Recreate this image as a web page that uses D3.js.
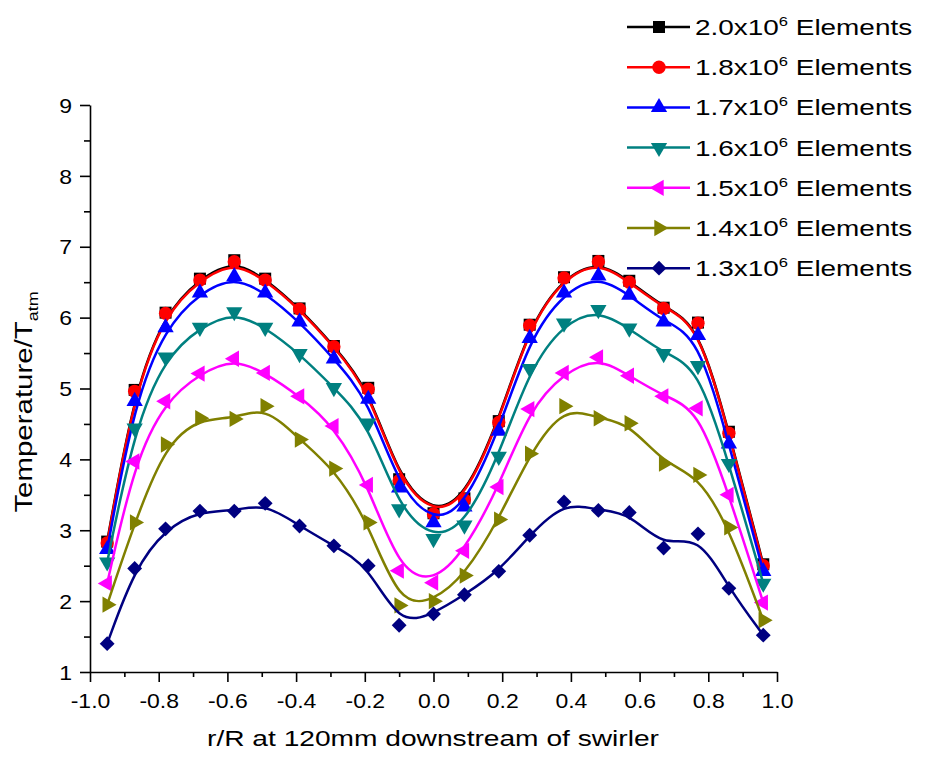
<!DOCTYPE html>
<html>
<head>
<meta charset="utf-8">
<script src="https://cdn.jsdelivr.net/npm/d3@7"></script>
<style>
  body { margin: 0; background: #fff; }
  text { font-family: "Liberation Sans", Arial, sans-serif; fill: #000; }
</style>
</head>
<body>
<div id="chart"></div>
<script>
// radial positions r/R
const xVals = [-0.95, -0.87, -0.78, -0.68, -0.58, -0.49, -0.39, -0.29, -0.19, -0.10, 0.0,
               0.09, 0.19, 0.28, 0.38, 0.48, 0.57, 0.67, 0.77, 0.86, 0.96];

// series, by mesh size
const seriesNames = ["2.0", "1.8", "1.7", "1.6", "1.5", "1.4", "1.3"];
const t20 = [2.84, 4.98, 6.07, 6.55, 6.81, 6.55, 6.13, 5.60, 5.01, 3.72, 3.24, 3.45, 4.54, 5.90, 6.57, 6.80, 6.52, 6.14, 5.93, 4.39, 2.52];
const t18 = [2.82, 4.96, 6.06, 6.53, 6.79, 6.53, 6.12, 5.59, 4.99, 3.70, 3.23, 3.43, 4.52, 5.89, 6.56, 6.79, 6.50, 6.13, 5.92, 4.37, 2.50];
const t17 = [2.73, 4.82, 5.86, 6.35, 6.58, 6.35, 5.94, 5.42, 4.85, 3.60, 3.11, 3.33, 4.40, 5.71, 6.35, 6.59, 6.32, 5.94, 5.75, 4.22, 2.42];
const t16 = [2.55, 4.44, 5.44, 5.86, 6.08, 5.86, 5.49, 5.01, 4.51, 3.30, 2.88, 3.07, 4.04, 5.28, 5.92, 6.11, 5.85, 5.49, 5.32, 3.94, 2.25];
const t15 = [2.25, 3.97, 4.82, 5.21, 5.42, 5.22, 4.89, 4.47, 3.64, 2.43, 2.26, 2.71, 3.61, 4.71, 5.22, 5.44, 5.18, 4.89, 4.72, 3.50, 1.98];
const t14 = [1.95, 3.11, 4.21, 4.58, 4.57, 4.75, 4.28, 3.87, 3.11, 1.94, 2.00, 2.36, 3.15, 4.08, 4.75, 4.58, 4.51, 3.94, 3.78, 3.04, 1.73];
const t13 = [1.40, 2.46, 3.02, 3.27, 3.27, 3.38, 3.06, 2.78, 2.50, 1.66, 1.82, 2.09, 2.42, 2.93, 3.40, 3.28, 3.25, 2.75, 2.95, 2.18, 1.52];
const seriesValues = [t20, t18, t17, t16, t15, t14, t13];

const colors = ["#000000", "#ff0000", "#0000ff", "#008080", "#ff00ff", "#808000", "#000080"];

const xTicks = [-1.0, -0.8, -0.6, -0.4, -0.2, 0.0, 0.2, 0.4, 0.6, 0.8, 1.0];
const xMinor = [-0.9, -0.7, -0.5, -0.3, -0.1, 0.1, 0.3, 0.5, 0.7, 0.9];
const yTicks = [1, 2, 3, 4, 5, 6, 7, 8, 9];
const yMinor = [1.5, 2.5, 3.5, 4.5, 5.5, 6.5, 7.5, 8.5];

const W = 933, H = 757;
const plot = { left: 90, right: 777, top: 105, bottom: 672 };
const stretch = 1.27;   // text in the original is drawn wide
const tickStretch = 1.15;

const svg = d3.select("#chart").append("svg")
  .attr("width", W).attr("height", H);
svg.append("rect").attr("width", W).attr("height", H).attr("fill", "#fff");

const x = d3.scaleLinear().domain([-1, 1]).range([plot.left, plot.right]);
const y = d3.scaleLinear().domain([1, 9]).range([plot.bottom, plot.top]);

// marker shapes per series
const markers = [
  { type: d3.symbolSquare, size: 144, rot: 0 },
  { type: d3.symbolCircle, size: 140, rot: 0 },
  { type: d3.symbolTriangle, size: 115, rot: 0 },
  { type: d3.symbolTriangle, size: 115, rot: 180 },
  { type: d3.symbolTriangle, size: 115, rot: -90 },
  { type: d3.symbolTriangle, size: 115, rot: 90 },
  { type: d3.symbolSquare, size: 110, rot: 45 }
];

const fmt1 = d => d3.format(".1f")(d).replace("\u2212", "-");

// axes
const xAxis = svg.append("g").attr("transform", `translate(0,${plot.bottom})`)
  .call(d3.axisBottom(x).tickValues(xTicks).tickSize(10).tickSizeOuter(0).tickFormat(fmt1));
svg.append("g").attr("transform", `translate(0,${plot.bottom})`)
  .call(d3.axisBottom(x).tickValues(xMinor).tickSize(5).tickSizeOuter(0).tickFormat(""))
  .select(".domain").remove();

const yAxis = svg.append("g").attr("transform", `translate(${plot.left},0)`)
  .call(d3.axisLeft(y).tickValues(yTicks).tickSize(10).tickSizeOuter(0).tickFormat(d3.format("d")));
svg.append("g").attr("transform", `translate(${plot.left},0)`)
  .call(d3.axisLeft(y).tickValues(yMinor).tickSize(6).tickSizeOuter(0).tickFormat(""))
  .select(".domain").remove();

svg.selectAll(".domain, .tick line").attr("stroke", "#000").attr("stroke-width", 1.6);

xAxis.selectAll(".tick text")
  .attr("font-size", 20).attr("y", 36).attr("dy", 0)
  .attr("transform", `scale(${tickStretch},1)`)
  .style("font-family", "'Liberation Sans', Arial, sans-serif");
yAxis.selectAll(".tick text")
  .attr("font-size", 20).attr("x", -18 / tickStretch).attr("dy", "0.36em")
  .attr("transform", `scale(${tickStretch},1)`)
  .style("font-family", "'Liberation Sans', Arial, sans-serif");

// lines + markers
const line = d3.line()
  .x((d, i) => x(xVals[i]))
  .y(d => y(d))
  .curve(d3.curveBasis);

seriesValues.forEach((vals, s) => {
  const g = svg.append("g");
  g.append("path")
    .attr("d", line(vals))
    .attr("fill", "none")
    .attr("stroke", colors[s])
    .attr("stroke-width", 2.5);
  const sym = d3.symbol().type(markers[s].type).size(markers[s].size);
  g.selectAll("path.m")
    .data(vals)
    .join("path")
    .attr("class", "m")
    .attr("d", sym)
    .attr("transform", (d, i) => `translate(${x(xVals[i])},${y(d)}) rotate(${markers[s].rot})`)
    .attr("fill", colors[s]);
});

// axis titles
svg.append("text")
  .attr("transform", `translate(433,746) scale(1.28,1)`)
  .attr("text-anchor", "middle")
  .attr("font-size", 22)
  .text("r/R at 120mm downstream of swirler");

const yt = svg.append("text")
  .attr("transform", `translate(32,402) rotate(-90) scale(1.28,1)`)
  .attr("text-anchor", "middle")
  .attr("font-size", 23);
yt.append("tspan").text("Temperature/T");
yt.append("tspan").attr("font-size", 14).attr("dy", 6).text("atm");

// legend
const legend = svg.append("g");
seriesNames.forEach((name, s) => {
  const cy = 27 + s * 40.2;
  legend.append("line")
    .attr("x1", 627).attr("x2", 690).attr("y1", cy).attr("y2", cy)
    .attr("stroke", colors[s]).attr("stroke-width", 2.5);
  legend.append("path")
    .attr("d", d3.symbol().type(markers[s].type).size(markers[s].size)())
    .attr("transform", `translate(659,${cy}) rotate(${markers[s].rot})`)
    .attr("fill", colors[s]);
  const t = legend.append("text")
    .attr("transform", `translate(695,${cy + 8}) scale(${stretch},1)`)
    .attr("font-size", 22);
  t.append("tspan").text(name + "x10");
  t.append("tspan").attr("font-size", 13).attr("dy", -9).text("6");
  t.append("tspan").attr("dy", 9).text(" Elements");
});
</script>
</body>
</html>
